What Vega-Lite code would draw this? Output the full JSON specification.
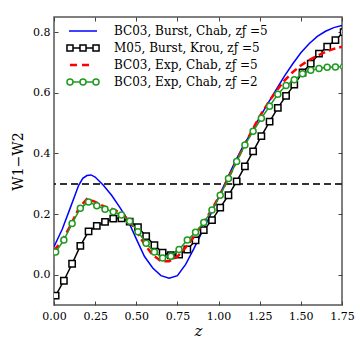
{
  "$schema": "https://vega.github.io/schema/vega-lite/v6.json",
  "width": 288,
  "height": 288,
  "autosize": "none",
  "padding": {"left": 54, "top": 17, "right": 18, "bottom": 55},
  "background": "white",
  "config": {
    "view": {"stroke": "#555", "strokeWidth": 1.5},
    "axis": {"grid": false, "domain": false, "tickColor": "#444", "tickWidth": 1, "tickSize": -4, "labelFont": "DejaVu Serif", "labelFontSize": 11, "labelColor": "black", "titleFont": "DejaVu Serif", "titleFontWeight": "normal", "titleColor": "black", "labelOverlap": false, "labelFlush": false}
  },
  "datasets": {
    "curves": [
      {"s": "a", "z": 0.0, "v": 0.092}, {"s": "a", "z": 0.05, "v": 0.15}, {"s": "a", "z": 0.1, "v": 0.222}, {"s": "a", "z": 0.15, "v": 0.295}, {"s": "a", "z": 0.175, "v": 0.318}, {"s": "a", "z": 0.2, "v": 0.327}, {"s": "a", "z": 0.225, "v": 0.329}, {"s": "a", "z": 0.25, "v": 0.322}, {"s": "a", "z": 0.3, "v": 0.295}, {"s": "a", "z": 0.35, "v": 0.262}, {"s": "a", "z": 0.4, "v": 0.222}, {"s": "a", "z": 0.45, "v": 0.178}, {"s": "a", "z": 0.5, "v": 0.118}, {"s": "a", "z": 0.55, "v": 0.06}, {"s": "a", "z": 0.6, "v": 0.022}, {"s": "a", "z": 0.65, "v": -0.003}, {"s": "a", "z": 0.7, "v": -0.012}, {"s": "a", "z": 0.75, "v": -0.003}, {"s": "a", "z": 0.8, "v": 0.034}, {"s": "a", "z": 0.85, "v": 0.086}, {"s": "a", "z": 0.9, "v": 0.141}, {"s": "a", "z": 0.95, "v": 0.197}, {"s": "a", "z": 1.0, "v": 0.255}, {"s": "a", "z": 1.05, "v": 0.315}, {"s": "a", "z": 1.1, "v": 0.372}, {"s": "a", "z": 1.15, "v": 0.425}, {"s": "a", "z": 1.2, "v": 0.47}, {"s": "a", "z": 1.25, "v": 0.52}, {"s": "a", "z": 1.3, "v": 0.565}, {"s": "a", "z": 1.35, "v": 0.61}, {"s": "a", "z": 1.4, "v": 0.655}, {"s": "a", "z": 1.45, "v": 0.695}, {"s": "a", "z": 1.5, "v": 0.732}, {"s": "a", "z": 1.55, "v": 0.762}, {"s": "a", "z": 1.6, "v": 0.786}, {"s": "a", "z": 1.65, "v": 0.803}, {"s": "a", "z": 1.7, "v": 0.815}, {"s": "a", "z": 1.75, "v": 0.822},
      {"s": "b", "z": 0.01, "v": -0.069}, {"s": "b", "z": 0.06, "v": -0.02}, {"s": "b", "z": 0.11, "v": 0.036}, {"s": "b", "z": 0.16, "v": 0.095}, {"s": "b", "z": 0.21, "v": 0.143}, {"s": "b", "z": 0.26, "v": 0.161}, {"s": "b", "z": 0.31, "v": 0.174}, {"s": "b", "z": 0.36, "v": 0.185}, {"s": "b", "z": 0.41, "v": 0.186}, {"s": "b", "z": 0.46, "v": 0.175}, {"s": "b", "z": 0.51, "v": 0.157}, {"s": "b", "z": 0.56, "v": 0.127}, {"s": "b", "z": 0.61, "v": 0.097}, {"s": "b", "z": 0.66, "v": 0.073}, {"s": "b", "z": 0.71, "v": 0.064}, {"s": "b", "z": 0.76, "v": 0.066}, {"s": "b", "z": 0.81, "v": 0.083}, {"s": "b", "z": 0.86, "v": 0.113}, {"s": "b", "z": 0.91, "v": 0.147}, {"s": "b", "z": 0.96, "v": 0.18}, {"s": "b", "z": 1.01, "v": 0.221}, {"s": "b", "z": 1.06, "v": 0.262}, {"s": "b", "z": 1.11, "v": 0.308}, {"s": "b", "z": 1.16, "v": 0.357}, {"s": "b", "z": 1.21, "v": 0.407}, {"s": "b", "z": 1.26, "v": 0.457}, {"s": "b", "z": 1.31, "v": 0.505}, {"s": "b", "z": 1.36, "v": 0.55}, {"s": "b", "z": 1.41, "v": 0.59}, {"s": "b", "z": 1.46, "v": 0.627}, {"s": "b", "z": 1.51, "v": 0.667}, {"s": "b", "z": 1.56, "v": 0.696}, {"s": "b", "z": 1.61, "v": 0.729}, {"s": "b", "z": 1.66, "v": 0.752}, {"s": "b", "z": 1.71, "v": 0.774}, {"s": "b", "z": 1.76, "v": 0.8},
      {"s": "c", "z": 0.0, "v": 0.08}, {"s": "c", "z": 0.05, "v": 0.112}, {"s": "c", "z": 0.1, "v": 0.162}, {"s": "c", "z": 0.15, "v": 0.218}, {"s": "c", "z": 0.2, "v": 0.25}, {"s": "c", "z": 0.25, "v": 0.24}, {"s": "c", "z": 0.3, "v": 0.226}, {"s": "c", "z": 0.35, "v": 0.218}, {"s": "c", "z": 0.4, "v": 0.205}, {"s": "c", "z": 0.45, "v": 0.183}, {"s": "c", "z": 0.5, "v": 0.145}, {"s": "c", "z": 0.55, "v": 0.1}, {"s": "c", "z": 0.6, "v": 0.065}, {"s": "c", "z": 0.65, "v": 0.045}, {"s": "c", "z": 0.7, "v": 0.044}, {"s": "c", "z": 0.75, "v": 0.06}, {"s": "c", "z": 0.8, "v": 0.09}, {"s": "c", "z": 0.85, "v": 0.125}, {"s": "c", "z": 0.9, "v": 0.165}, {"s": "c", "z": 0.95, "v": 0.207}, {"s": "c", "z": 1.0, "v": 0.255}, {"s": "c", "z": 1.05, "v": 0.308}, {"s": "c", "z": 1.1, "v": 0.365}, {"s": "c", "z": 1.15, "v": 0.42}, {"s": "c", "z": 1.2, "v": 0.472}, {"s": "c", "z": 1.25, "v": 0.522}, {"s": "c", "z": 1.3, "v": 0.566}, {"s": "c", "z": 1.35, "v": 0.605}, {"s": "c", "z": 1.4, "v": 0.64}, {"s": "c", "z": 1.45, "v": 0.668}, {"s": "c", "z": 1.5, "v": 0.69}, {"s": "c", "z": 1.55, "v": 0.708}, {"s": "c", "z": 1.6, "v": 0.722}, {"s": "c", "z": 1.65, "v": 0.735}, {"s": "c", "z": 1.7, "v": 0.745}, {"s": "c", "z": 1.75, "v": 0.752},
      {"s": "d", "z": 0.01, "v": 0.075}, {"s": "d", "z": 0.06, "v": 0.114}, {"s": "d", "z": 0.11, "v": 0.169}, {"s": "d", "z": 0.16, "v": 0.219}, {"s": "d", "z": 0.21, "v": 0.24}, {"s": "d", "z": 0.26, "v": 0.227}, {"s": "d", "z": 0.31, "v": 0.216}, {"s": "d", "z": 0.36, "v": 0.208}, {"s": "d", "z": 0.41, "v": 0.197}, {"s": "d", "z": 0.46, "v": 0.176}, {"s": "d", "z": 0.51, "v": 0.142}, {"s": "d", "z": 0.56, "v": 0.104}, {"s": "d", "z": 0.61, "v": 0.075}, {"s": "d", "z": 0.66, "v": 0.055}, {"s": "d", "z": 0.71, "v": 0.061}, {"s": "d", "z": 0.76, "v": 0.083}, {"s": "d", "z": 0.81, "v": 0.114}, {"s": "d", "z": 0.86, "v": 0.14}, {"s": "d", "z": 0.91, "v": 0.172}, {"s": "d", "z": 0.96, "v": 0.213}, {"s": "d", "z": 1.01, "v": 0.262}, {"s": "d", "z": 1.06, "v": 0.317}, {"s": "d", "z": 1.11, "v": 0.373}, {"s": "d", "z": 1.16, "v": 0.428}, {"s": "d", "z": 1.21, "v": 0.473}, {"s": "d", "z": 1.26, "v": 0.516}, {"s": "d", "z": 1.31, "v": 0.556}, {"s": "d", "z": 1.36, "v": 0.595}, {"s": "d", "z": 1.41, "v": 0.624}, {"s": "d", "z": 1.46, "v": 0.643}, {"s": "d", "z": 1.51, "v": 0.663}, {"s": "d", "z": 1.56, "v": 0.674}, {"s": "d", "z": 1.61, "v": 0.68}, {"s": "d", "z": 1.66, "v": 0.684}, {"s": "d", "z": 1.71, "v": 0.685}, {"s": "d", "z": 1.76, "v": 0.686}
    ]
  },
  "data": {"name": "curves"},
  "resolve": {"axis": {"x": "independent", "y": "independent"}},
  "layer": [
    {
      "mark": {"type": "rule", "strokeDash": [7, 4], "color": "#333", "strokeWidth": 1},
      "encoding": {"y": {"datum": 0.3, "type": "quantitative", "scale": {"domain": [-0.1, 0.85], "nice": false, "zero": false}, "axis": null}}
    },
    {
      "transform": [{"filter": "datum.s == 'a'"}],
      "mark": {"type": "line", "strokeWidth": 1.5, "clip": true},
      "encoding": {
        "x": {"field": "z", "type": "quantitative", "scale": {"domain": [0, 1.75], "nice": false, "zero": false},
          "axis": {"orient": "bottom", "values": [0, 0.25, 0.5, 0.75, 1.0, 1.25, 1.5, 1.75], "format": ".2f", "title": "z", "titleFontStyle": "italic", "titleFontSize": 15, "labelPadding": 9, "titlePadding": 2}},
        "y": {"field": "v", "type": "quantitative", "scale": {"domain": [-0.1, 0.85], "nice": false, "zero": false},
          "axis": {"orient": "left", "values": [0, 0.2, 0.4, 0.6, 0.8], "format": ".1f", "title": "W1\u2212W2", "titleFontSize": 14, "labelPadding": 8, "titlePadding": 7}},
        "color": {"field": "s", "type": "nominal",
          "scale": {"domain": ["a", "b", "c", "d"], "range": ["#0000ff", "#000000", "#ff0000", "#1f9a1f"]},
          "legend": {
            "orient": "none", "legendX": 23, "legendY": 8, "title": null, "padding": 0,
            "labelFont": "DejaVu Serif", "labelFontSize": 12, "labelColor": "black",
            "symbolSize": 196, "labelOffset": 25, "rowPadding": 4, "symbolStrokeWidth": 1.5,
            "labelExpr": "datum.value == 'a' ? 'BC03, Burst, Chab, z\u0192 =5' : datum.value == 'b' ? 'M05, Burst, Krou, z\u0192 =5' : datum.value == 'c' ? 'BC03, Exp, Chab, z\u0192 =5' : 'BC03, Exp, Chab, z\u0192 =2'",
            "encode": {"symbols": {"update": {
              "shape": {"signal": "datum.value == 'b' ? 'M-1.43,0H-0.43M0.43,0H1.43M-2.29,-0.43H-1.43V0.43H-2.29ZM-0.43,-0.43H0.43V0.43H-0.43ZM1.43,-0.43H2.29V0.43H1.43Z' : datum.value == 'c' ? 'M-1.86,0L-0.86,0M-0.14,0L0.86,0' : datum.value == 'd' ? 'M-1.43,0H-0.43M0.43,0H1.43M-1.43,0A0.43,0.43,0,1,1,-2.29,0A0.43,0.43,0,1,1,-1.43,0ZM0.43,0A0.43,0.43,0,1,1,-0.43,0A0.43,0.43,0,1,1,0.43,0ZM2.29,0A0.43,0.43,0,1,1,1.43,0A0.43,0.43,0,1,1,2.29,0Z' : 'M-2,0L2,0'"},
              "fill": {"value": "white"},
              "fillOpacity": {"value": 1},
              "strokeDash": {"value": []},
              "strokeWidth": {"signal": "datum.value == 'c' ? 2.5 : 1.5"}
            }}}
          }}
      }
    },
    {
      "transform": [{"filter": "datum.s == 'b'"}],
      "mark": {"type": "line", "strokeWidth": 1.5, "clip": true},
      "encoding": {
        "x": {"field": "z", "type": "quantitative", "scale": {"domain": [0, 1.75], "nice": false, "zero": false},
          "axis": {"orient": "top", "values": [0, 0.25, 0.5, 0.75, 1.0, 1.25, 1.5, 1.75], "labels": false, "title": null}},
        "y": {"field": "v", "type": "quantitative", "scale": {"domain": [-0.1, 0.85], "nice": false, "zero": false},
          "axis": {"orient": "right", "values": [0, 0.2, 0.4, 0.6, 0.8], "labels": false, "title": null}},
        "color": {"field": "s", "type": "nominal", "scale": {"domain": ["a", "b", "c", "d"], "range": ["#0000ff", "#000000", "#ff0000", "#1f9a1f"]}}
      }
    },
    {
      "transform": [{"filter": "datum.s == 'b'"}],
      "mark": {"type": "point", "shape": "square", "filled": true, "fill": "white", "stroke": "black", "strokeWidth": 1.5, "size": 40, "opacity": 1, "clip": true},
      "encoding": {
        "x": {"field": "z", "type": "quantitative", "scale": {"domain": [0, 1.75], "nice": false, "zero": false}, "axis": null},
        "y": {"field": "v", "type": "quantitative", "scale": {"domain": [-0.1, 0.85], "nice": false, "zero": false}, "axis": null}
      }
    },
    {
      "transform": [{"filter": "datum.s == 'c'"}],
      "mark": {"type": "line", "strokeWidth": 2.5, "strokeDash": [7, 4], "clip": true},
      "encoding": {
        "x": {"field": "z", "type": "quantitative", "scale": {"domain": [0, 1.75], "nice": false, "zero": false}, "axis": null},
        "y": {"field": "v", "type": "quantitative", "scale": {"domain": [-0.1, 0.85], "nice": false, "zero": false}, "axis": null},
        "color": {"field": "s", "type": "nominal", "scale": {"domain": ["a", "b", "c", "d"], "range": ["#0000ff", "#000000", "#ff0000", "#1f9a1f"]}}
      }
    },
    {
      "transform": [{"filter": "datum.s == 'd'"}],
      "mark": {"type": "line", "strokeWidth": 1.5, "clip": true},
      "encoding": {
        "x": {"field": "z", "type": "quantitative", "scale": {"domain": [0, 1.75], "nice": false, "zero": false}, "axis": null},
        "y": {"field": "v", "type": "quantitative", "scale": {"domain": [-0.1, 0.85], "nice": false, "zero": false}, "axis": null},
        "color": {"field": "s", "type": "nominal", "scale": {"domain": ["a", "b", "c", "d"], "range": ["#0000ff", "#000000", "#ff0000", "#1f9a1f"]}}
      }
    },
    {
      "transform": [{"filter": "datum.s == 'd'"}],
      "mark": {"type": "point", "shape": "circle", "filled": true, "fill": "white", "stroke": "#1f9a1f", "strokeWidth": 1.5, "size": 36, "opacity": 1, "clip": true},
      "encoding": {
        "x": {"field": "z", "type": "quantitative", "scale": {"domain": [0, 1.75], "nice": false, "zero": false}, "axis": null},
        "y": {"field": "v", "type": "quantitative", "scale": {"domain": [-0.1, 0.85], "nice": false, "zero": false}, "axis": null}
      }
    }
  ]
}
